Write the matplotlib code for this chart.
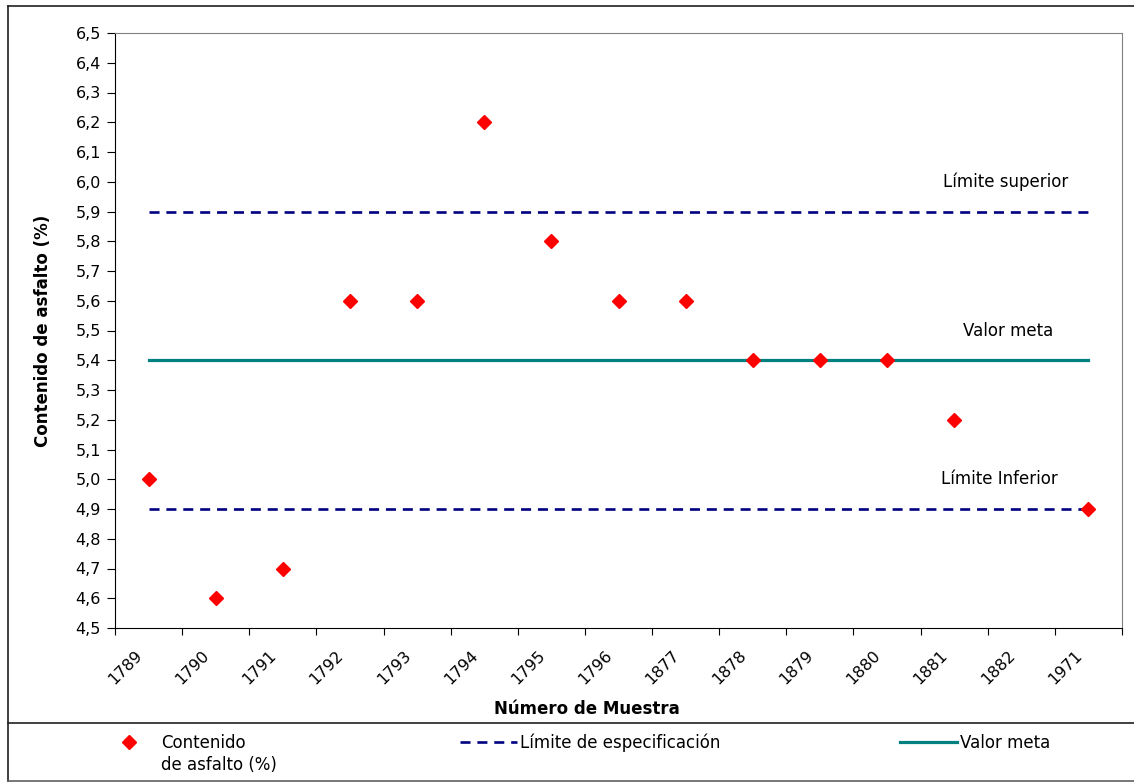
import matplotlib
matplotlib.use("Agg")
import matplotlib.pyplot as plt
import matplotlib.transforms as mtransforms
from matplotlib.lines import Line2D
import numpy as np

plt.rcParams['font.family'] = ['DejaVu Sans']

muestras = ['1789', '1790', '1791', '1792', '1793', '1794', '1795', '1796',
            '1877', '1878', '1879', '1880', '1881', '1882', '1971']
contenido = [5.0, 4.6, 4.7, 5.6, 5.6, 6.2, 5.8, 5.6,
             5.6, 5.4, 5.4, 5.4, 5.2, np.nan, 4.9]
limite_superior = 5.9
limite_inferior = 4.9
valor_meta = 5.4
y_ticks = [4.5 + 0.1 * i for i in range(21)]

W, H = 1134, 783
fig = plt.figure(figsize=(W / 100, H / 100), dpi=100)
ax = fig.add_axes([115 / W, 1 - 628 / H, (1122 - 115) / W, (628 - 33) / H])

n = len(muestras)
xc = np.arange(n) + 0.5

navy = '#000080'
teal = '#008080'
dash = (3.8, 2.6)
ax.plot([xc[0], xc[-1]], [limite_superior] * 2, color=navy, lw=1.9, dashes=dash)
ax.plot([xc[0], xc[-1]], [limite_inferior] * 2, color=navy, lw=1.9, dashes=dash)
ax.plot([xc[0], xc[-1]], [valor_meta] * 2, color=teal, lw=2.3)
ax.plot(xc, contenido, linestyle='none', marker='D', color='#FF0000',
        markersize=7.2, zorder=5)

ax.set_xlim(0, n)
ax.set_ylim(4.5, 6.5)
ax.set_yticks(y_ticks)
ax.set_yticklabels([f"{v:.1f}".replace('.', ',') for v in y_ticks], fontsize=11.5)
ax.set_xticks(np.arange(n + 1))
ax.set_xticklabels([])
ax.set_xticks(xc, minor=True)
ax.set_xticklabels(muestras, minor=True, rotation=45, ha='right', va='top',
                   rotation_mode='anchor', fontsize=11.5)
ax.tick_params(axis='x', which='minor', length=0, pad=14)
ax.tick_params(axis='x', which='major', length=5, direction='out')
ax.tick_params(axis='y', length=6, direction='out', pad=4)
offset = mtransforms.ScaledTranslation(-0.14, 0, fig.dpi_scale_trans)
for lab in ax.get_xticklabels(minor=True):
    lab.set_transform(lab.get_transform() + offset)
for s in ['top', 'right']:
    ax.spines[s].set_color('#808080')
for s in ['left', 'bottom']:
    ax.spines[s].set_color('black')

ax.set_ylabel('Contenido de asfalto (%)', fontsize=12, fontweight='bold')
ax.yaxis.set_label_coords((52 - 115) / (1122 - 115), 0.5)
fig.text(587 / W, 1 - 709 / H, 'Número de Muestra', fontsize=12,
         fontweight='bold', ha='center', va='center')

ax.text(13.26, 6.0, 'Límite superior', fontsize=12, ha='center', va='center')
ax.text(13.30, 5.5, 'Valor meta', fontsize=12, ha='center', va='center')
ax.text(13.18, 5.0, 'Límite Inferior', fontsize=12, ha='center', va='center')

# figure borders
lc = '#202020'
fig.add_artist(Line2D([8 / W, 8 / W], [1 - 6 / H, 1 - 781 / H], color=lc, lw=1.2,
                      transform=fig.transFigure))
fig.add_artist(Line2D([8 / W, 1], [1 - 6 / H, 1 - 6 / H], color=lc, lw=1.2,
                      transform=fig.transFigure))
fig.add_artist(Line2D([8 / W, 1], [1 - 781 / H, 1 - 781 / H], color='#606060',
                      lw=1.2, transform=fig.transFigure))
fig.add_artist(Line2D([8 / W, 1], [1 - 723 / H, 1 - 723 / H], color=lc, lw=1.2,
                      transform=fig.transFigure))

# legend (three entries, top-aligned like the original)
entries = [
    (Line2D([], [], linestyle='none', marker='D', color='#FF0000', markersize=7.2),
     'Contenido', 101),
    (Line2D([], [], color=navy, lw=1.9, dashes=dash), 'Límite de especificación', 460),
    (Line2D([], [], color=teal, lw=2.3), 'Valor meta', 900),
]
legs = []
for h, lab, x0 in entries:
    lg = fig.legend([h], [lab], loc='center left',
                    bbox_to_anchor=(x0 / W, 1 - 743 / H), frameon=False,
                    fontsize=12, handlelength=3.4, handletextpad=0.2,
                    borderaxespad=0, borderpad=0)
    legs.append(lg)

fig.canvas.draw()
r = fig.canvas.get_renderer()
bb = legs[0].get_texts()[0].get_window_extent(r)
fig.text(bb.x0 / W, (bb.y0 - 22) / H, 'de asfalto (%)', fontsize=12,
         ha='left', va='bottom')

fig.savefig('out.png', dpi=100)
